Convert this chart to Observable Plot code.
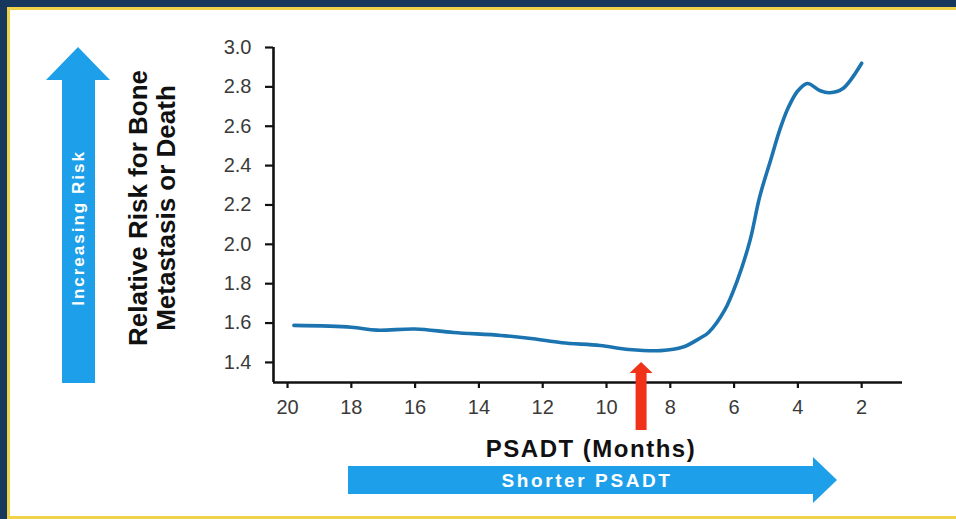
<!DOCTYPE html>
<html>
<head>
<meta charset="utf-8">
<script src="https://cdn.jsdelivr.net/npm/d3@7"></script>
<script src="https://cdn.jsdelivr.net/npm/@observablehq/plot@0.6"></script>
<style>
  html, body { margin: 0; padding: 0; background: #ffffff; overflow: hidden; }
  svg { display: block; }
</style>
</head>
<body>
<script>
// PSADT (months) and the relative risk of bone metastasis or death along the fitted curve
const months = [19.8, 18.0, 17.2, 16.0, 14.8, 13.3, 12.3, 11.4, 10.2, 9.3, 8.3, 7.6, 7.05, 6.8, 6.3, 5.9, 5.5, 5.2, 4.85, 4.55, 4.3, 4.0, 3.7, 3.3, 3.0, 2.6, 2.0];
const risk   = [1.588, 1.579, 1.564, 1.570, 1.552, 1.537, 1.520, 1.500, 1.486, 1.466, 1.460, 1.478, 1.525, 1.552, 1.664, 1.816, 2.020, 2.240, 2.430, 2.590, 2.695, 2.780, 2.817, 2.780, 2.770, 2.790, 2.920];

const xTicks = [20, 18, 16, 14, 12, 10, 8, 6, 4, 2];
const yTicks = [1.4, 1.6, 1.8, 2.0, 2.2, 2.4, 2.6, 2.8, 3.0];

// PSADT threshold marked by the red arrow
const threshold = 8.9;

const data = months.map((m, i) => ({months: m, risk: risk[i]}));

const xMin = 0.72, xMax = 20.44;   // reversed axis: long PSADT on the left
const yMin = 1.298, yMax = 3.0;

const ink = "#111111";
const fontStack = "'Liberation Sans', Arial, Helvetica, sans-serif";

const chart = Plot.plot({
  width: 956,
  height: 519,
  marginTop: 47,
  marginRight: 54,
  marginBottom: 137,
  marginLeft: 273,
  style: {background: "transparent", fontFamily: fontStack, color: "#333"},
  x: {domain: [xMax, xMin], axis: null},
  y: {domain: [yMin, yMax], axis: null},
  marks: [
    Plot.axisY(yTicks, {
      label: null,
      tickSize: 8, tickPadding: 14, fontSize: 20,
      tickFormat: d => d.toFixed(1),
      stroke: ink, strokeWidth: 2.2, fill: "#3a3a3a"
    }),
    Plot.axisX(xTicks, {
      label: null,
      tickSize: 6, tickPadding: 11, fontSize: 20,
      tickFormat: d => String(d),
      stroke: ink, strokeWidth: 2.2, fill: "#3a3a3a"
    }),
    Plot.ruleY([yMin], {stroke: ink, strokeWidth: 2.6}),
    Plot.ruleX([xMax], {stroke: ink, strokeWidth: 2.6}),
    Plot.line(data, {
      x: "months", y: "risk",
      stroke: "#1b74b0", strokeWidth: 3.6,
      curve: "catmull-rom"
    })
  ]
});

document.body.appendChild(chart);

const svg = d3.select(chart);
const xs = chart.scale("x");
const ys = chart.scale("y");

// Slide frame: navy edge with a thin gold rule
const frame = svg.insert("g", ":first-child");
frame.append("rect").attr("x", 0).attr("y", 0).attr("width", 956).attr("height", 519).attr("fill", "#ffffff");
frame.append("rect").attr("x", 0).attr("y", 0).attr("width", 956).attr("height", 7).attr("fill", "#17385c");
frame.append("rect").attr("x", 0).attr("y", 0).attr("width", 7).attr("height", 519).attr("fill", "#17385c");
frame.append("rect").attr("x", 7).attr("y", 7).attr("width", 949).attr("height", 3).attr("fill", "#f1d34a");
frame.append("rect").attr("x", 7).attr("y", 7).attr("width", 3).attr("height", 512).attr("fill", "#f1d34a");
frame.append("rect").attr("x", 7).attr("y", 516).attr("width", 949).attr("height", 3).attr("fill", "#f1d34a");

const blue = "#1e9fe9";

// "Increasing Risk" block arrow
svg.append("path")
  .attr("d", "M78,47 L110,80 L95,80 L95,383 L62,383 L62,80 L46,80 Z")
  .attr("fill", blue);
svg.append("text")
  .attr("transform", "translate(84,228) rotate(-90)")
  .attr("text-anchor", "middle")
  .attr("fill", "#ffffff")
  .attr("font-family", fontStack)
  .attr("font-weight", "bold")
  .attr("font-size", 17)
  .attr("letter-spacing", "2px")
  .text("Increasing Risk");

// Y axis title (two lines)
const yTitle = ["Relative Risk for Bone", "Metastasis or Death"];
yTitle.forEach((line, i) => {
  svg.append("text")
    .attr("transform", `translate(${147 + i * 28},208) rotate(-90)`)
    .attr("text-anchor", "middle")
    .attr("fill", ink)
    .attr("font-family", fontStack)
    .attr("font-weight", "bold")
    .attr("font-size", 26)
    .text(line);
});

// X axis title
svg.append("text")
  .attr("x", 591).attr("y", 457)
  .attr("text-anchor", "middle")
  .attr("fill", ink)
  .attr("font-family", fontStack)
  .attr("font-weight", "bold")
  .attr("font-size", 24)
  .attr("letter-spacing", "1.5px")
  .text("PSADT (Months)");

// "Shorter PSADT" block arrow
svg.append("path")
  .attr("d", "M348,466 L813,466 L813,457 L837,480 L813,503 L813,494 L348,494 Z")
  .attr("fill", blue);
svg.append("text")
  .attr("x", 587).attr("y", 487)
  .attr("text-anchor", "middle")
  .attr("fill", "#ffffff")
  .attr("font-family", fontStack)
  .attr("font-weight", "bold")
  .attr("font-size", 19)
  .attr("letter-spacing", "2.6px")
  .text("Shorter PSADT");

// Red arrow pointing up at the threshold PSADT
const ax = xs.apply(threshold);
const tip = ys.apply(1.4);
svg.append("path")
  .attr("d", `M${ax},${tip} L${ax + 11.5},${tip + 11} L${ax + 5.5},${tip + 11} L${ax + 5.5},${tip + 68} L${ax - 5.5},${tip + 68} L${ax - 5.5},${tip + 11} L${ax - 11.5},${tip + 11} Z`)
  .attr("fill", "#f0321a");
</script>
</body>
</html>
